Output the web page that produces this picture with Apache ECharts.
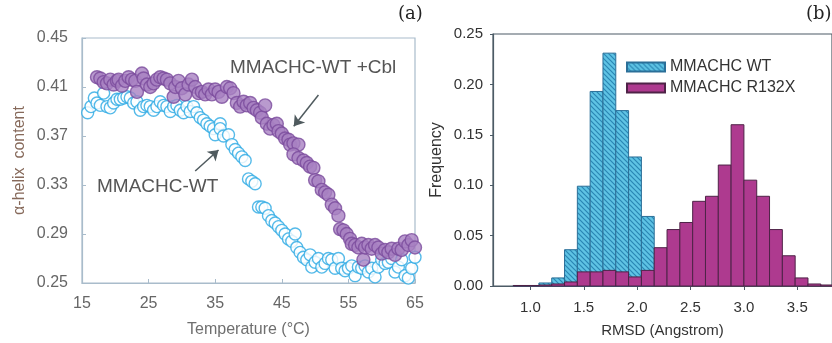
<!DOCTYPE html>
<html>
<head>
<meta charset="utf-8">
<script src="https://cdn.jsdelivr.net/npm/echarts@6/dist/echarts.min.js"></script>
<style>
  html, body { margin: 0; padding: 0; background: #fff; }
  #chart { width: 832px; height: 343px; }
</style>
</head>
<body>
<div id="chart"></div>
<script>
// ---- panel (a): alpha-helix content vs temperature ----
const tempTicks = [15, 25, 35, 45, 55, 65]
const helixTicks = [0.25, 0.29, 0.33, 0.37, 0.41, 0.45]

const cblData = [
  [17.25, 0.418], [17.75, 0.417], [18.25, 0.414], [18.75, 0.413], [19.25, 0.416],
  [19.75, 0.412], [20.25, 0.415], [20.5, 0.416], [21, 0.411], [21.5, 0.415],
  [22, 0.418], [22.5, 0.416], [23, 0.415], [23.25, 0.406], [24, 0.421],
  [24.25, 0.417], [24.75, 0.412], [25.25, 0.41], [25.75, 0.413], [26.25, 0.416],
  [26.75, 0.418], [27.25, 0.417], [27.75, 0.416], [28.25, 0.413], [28.75, 0.402],
  [29, 0.41], [29.5, 0.415], [30, 0.409], [30.5, 0.404], [31, 0.412],
  [31.5, 0.416], [32, 0.41], [32.5, 0.405], [33, 0.406], [33.5, 0.404],
  [34, 0.408], [34.5, 0.404], [35, 0.408], [35.5, 0.406], [36, 0.402],
  [36.75, 0.41], [37.25, 0.409], [37.75, 0.405], [38.25, 0.397], [38.75, 0.394],
  [39.25, 0.398], [39.75, 0.395], [40.25, 0.397], [40.75, 0.393], [41.25, 0.391],
  [41.75, 0.389], [42, 0.385], [42.5, 0.395], [42.75, 0.38], [43.25, 0.376],
  [43.75, 0.379], [44.25, 0.38], [44.5, 0.374], [45, 0.372], [45.5, 0.368],
  [46, 0.367], [46.25, 0.363], [46.75, 0.364], [47.5, 0.363], [46.75, 0.355],
  [47.5, 0.352], [48.25, 0.35], [48.75, 0.348], [49.25, 0.345], [49.75, 0.344],
  [50, 0.334], [50.5, 0.333], [51, 0.326], [51.5, 0.324], [52, 0.322],
  [52.5, 0.314], [53, 0.311], [53.5, 0.305], [53.75, 0.294], [54.25, 0.293],
  [54.75, 0.29], [55.25, 0.286], [55.5, 0.282], [56, 0.281], [56.5, 0.279],
  [57, 0.282], [57.25, 0.269], [57.5, 0.279], [58, 0.281], [58.5, 0.278],
  [59, 0.281], [59.5, 0.279], [60, 0.274], [60.5, 0.277], [61, 0.275],
  [61.5, 0.278], [62, 0.273], [62.5, 0.278], [63, 0.277], [63.5, 0.284],
  [64, 0.281], [64.5, 0.285], [65, 0.279]
]

const wtData = [
  [15.85, 0.389], [16.35, 0.394], [16.85, 0.401], [17.25, 0.397], [17.75, 0.395],
  [18.25, 0.405], [18.75, 0.394], [19.25, 0.393], [19.75, 0.397], [20.25, 0.4],
  [20.75, 0.4], [21.25, 0.401], [21.75, 0.402], [22.25, 0.401], [22.75, 0.397],
  [23.25, 0.398], [23.75, 0.391], [24.25, 0.394], [24.75, 0.395], [25.25, 0.394],
  [25.75, 0.391], [26.25, 0.394], [26.75, 0.398], [27.25, 0.395], [27.75, 0.394],
  [28.25, 0.39], [28.75, 0.394], [29.25, 0.395], [29.75, 0.391], [30.25, 0.389],
  [30.75, 0.394], [31.25, 0.39], [31.75, 0.394], [32.25, 0.389], [32.75, 0.385],
  [33.25, 0.383], [33.75, 0.38], [34.25, 0.378], [34.75, 0.376], [35, 0.371],
  [35.75, 0.38], [35.75, 0.376], [36.25, 0.37], [37, 0.371], [37.5, 0.363],
  [38, 0.359], [38.5, 0.356], [39, 0.353], [39.5, 0.35], [40, 0.335],
  [40.5, 0.333], [41, 0.331], [41.5, 0.312], [42, 0.312], [42.5, 0.311],
  [43, 0.305], [43.5, 0.301], [44, 0.299], [44.5, 0.296], [45, 0.293],
  [45.5, 0.29], [46, 0.286], [46.5, 0.284], [47, 0.29], [47.25, 0.279],
  [47.75, 0.275], [48.25, 0.271], [48.75, 0.269], [49.25, 0.273], [49.5, 0.263],
  [50, 0.267], [50.5, 0.27], [51, 0.263], [51.5, 0.266], [52, 0.27],
  [52.5, 0.269], [53, 0.262], [53.5, 0.27], [54, 0.262], [54.5, 0.26],
  [55, 0.262], [55.5, 0.264], [56, 0.256], [56.5, 0.263], [57, 0.262],
  [57.5, 0.264], [58, 0.259], [58.5, 0.262], [59, 0.255], [59.5, 0.263],
  [60, 0.269], [60.5, 0.266], [61, 0.267], [61.5, 0.27], [62, 0.259],
  [62.5, 0.263], [63, 0.269], [63.5, 0.256], [64, 0.254], [64.5, 0.262],
  [65, 0.271], [65.2, 0.264]
]

// arrows pointing at the two curves, [from, to] in data coords
const arrowPaths = [
  [[50.5, 0.4035], [46.8, 0.378]],
  [[32.0, 0.3414], [35.5, 0.3586]]
]

// ---- panel (b): RMSD histogram ----
const rmsdTicks = [1.0, 1.5, 2.0, 2.5, 3.0, 3.5]
const binEdges = [
  0.84, 0.96, 1.08, 1.2, 1.32, 1.44, 1.56, 1.68, 1.8, 1.92, 2.04, 2.16, 2.28,
  2.4, 2.52, 2.64, 2.76, 2.88, 3.0, 3.12, 3.24, 3.36, 3.48, 3.6, 3.72, 3.84
]
const wtFreq = [
  0.0005, 0.0005, 0.003, 0.008, 0.036, 0.099, 0.193, 0.231, 0.174, 0.128, 0.069,
  0, 0, 0, 0, 0, 0, 0, 0, 0, 0, 0, 0, 0, 0
]
const r132xFreq = [
  0.0005, 0.0005, 0.001, 0.002, 0.004, 0.014, 0.014, 0.0155, 0.014, 0.009,
  0.0155, 0.038, 0.056, 0.063, 0.084, 0.089, 0.12, 0.16, 0.105, 0.089,
  0.056, 0.03, 0.008, 0.002, 0.001
]

const toBins = (freq) => freq.map((f, i) => [binEdges[i], binEdges[i + 1], f])

// diagonal hatch for the WT bars
const hatch = document.createElement("canvas")
hatch.width = 5
hatch.height = 5
const hctx = hatch.getContext("2d")
hctx.fillStyle = "#5fc3e4"
hctx.fillRect(0, 0, 5, 5)
hctx.strokeStyle = "#2a86b4"
hctx.lineWidth = 1.2
hctx.beginPath()
hctx.moveTo(-1, -1); hctx.lineTo(6, 6)
hctx.moveTo(-1, 4); hctx.lineTo(1, 6)
hctx.moveTo(4, -1); hctx.lineTo(6, 1)
hctx.stroke()

const renderBin = (params, api) => {
  const y = api.value(2)
  if (!y) return
  const p0 = api.coord([api.value(0), y])
  const p1 = api.coord([api.value(1), 0])
  return {
    type: "rect",
    shape: { x: p0[0], y: p0[1], width: p1[0] - p0[0], height: p1[1] - p0[1] },
    style: api.style(),
  }
}

const font = "'Liberation Sans', Arial, Helvetica, sans-serif"
const leftAxisColor = "#a9bccb"
const rightAxisColor = "#4c5b66"

const chart = echarts.init(document.getElementById("chart"), null, { renderer: "canvas" })

const option = {
  animation: false,
  backgroundColor: "#fff",
  textStyle: { fontFamily: font },
  grid: [
    { left: 82, top: 38, width: 333, height: 245, show: true, borderColor: leftAxisColor, borderWidth: 1.2 },
    { left: 493, top: 34, width: 345, height: 254, show: true, borderColor: rightAxisColor, borderWidth: 1.2 },
  ],
  xAxis: [
    {
      gridIndex: 0,
      type: "value",
      min: 15,
      max: 65,
      name: "Temperature (°C)",
      nameLocation: "middle",
      nameGap: 39,
      nameTextStyle: { color: "#6f6f6f", fontSize: 16, fontFamily: font },
      axisLine: { lineStyle: { color: leftAxisColor, width: 1.2 } },
      axisTick: { inside: true, length: 4, customValues: tempTicks, lineStyle: { color: leftAxisColor } },
      axisLabel: { customValues: tempTicks, color: "#666", fontSize: 16, margin: 13, fontFamily: font },
      splitLine: { show: false },
    },
    {
      gridIndex: 1,
      type: "value",
      min: 0.65,
      max: 3.825,
      name: "RMSD (Angstrom)",
      nameLocation: "middle",
      nameGap: 37,
      nameTextStyle: { color: "#333", fontSize: 15, fontFamily: font },
      axisLine: { lineStyle: { color: rightAxisColor, width: 1.2 } },
      axisTick: { length: 4, customValues: rmsdTicks, lineStyle: { color: rightAxisColor } },
      axisLabel: { customValues: rmsdTicks, formatter: (v) => v.toFixed(1), color: "#333", fontSize: 15, margin: 14, fontFamily: font },
      splitLine: { show: false },
    },
  ],
  yAxis: [
    {
      gridIndex: 0,
      type: "value",
      min: 0.25,
      max: 0.45,
      name: "\u03b1-helix  content",
      nameLocation: "middle",
      nameGap: 54,
      nameTextStyle: { color: "#86695a", fontSize: 16, fontFamily: font },
      axisLine: { show: true, lineStyle: { color: leftAxisColor, width: 1.2 } },
      axisTick: { show: true, inside: true, length: 4, customValues: helixTicks, lineStyle: { color: leftAxisColor } },
      axisLabel: { customValues: helixTicks, formatter: (v) => v.toFixed(2), color: "#666", fontSize: 16, margin: 14, fontFamily: font },
      splitLine: { show: false },
    },
    {
      gridIndex: 1,
      type: "value",
      min: 0,
      max: 0.25,
      interval: 0.05,
      name: "Frequency",
      nameLocation: "middle",
      nameGap: 48,
      nameTextStyle: { color: "#333", fontSize: 16, fontFamily: font },
      axisLine: { show: true, lineStyle: { color: rightAxisColor, width: 1.2 } },
      axisTick: { show: true, length: 3, lineStyle: { color: rightAxisColor } },
      axisLabel: { formatter: (v) => v.toFixed(2), color: "#333", fontSize: 15, margin: 10, fontFamily: font },
      splitLine: { show: false },
    },
  ],
  legend: {
    orient: "vertical",
    left: 621,
    top: 54,
    itemWidth: 38,
    itemHeight: 9,
    itemGap: 5,
    icon: "rect",
    textStyle: { color: "#333", fontSize: 16, lineHeight: 16, fontFamily: font },
    data: ["MMACHC WT", "MMACHC R132X"],
  },
  graphic: [
    { type: "text", left: 230, top: 58, style: { text: "MMACHC-WT +Cbl", fill: "#555", font: "19px " + font } },
    { type: "text", left: 97, top: 177, style: { text: "MMACHC-WT", fill: "#555", font: "19px " + font } },
    { type: "text", left: 398, top: 5, style: { text: "(a)", fill: "#222", font: "18px 'DejaVu Serif', serif" } },
    { type: "text", left: 806, top: 5, style: { text: "(b)", fill: "#222", font: "18px 'DejaVu Serif', serif" } },
  ],
  series: [
    {
      name: "MMACHC-WT",
      type: "scatter",
      xAxisIndex: 0,
      yAxisIndex: 0,
      data: wtData,
      symbol: "circle",
      symbolSize: 12,
      itemStyle: { color: "#fff", borderColor: "#2aa9e3", borderWidth: 1.4 },
      markLine: {
        silent: true,
        symbol: ["none", "arrow"],
        symbolSize: 10,
        label: { show: false },
        lineStyle: { color: "#4f5a5e", width: 1.5, type: "solid" },
        data: arrowPaths.map((p) => [{ coord: p[0] }, { coord: p[1] }]),
      },
    },
    {
      name: "MMACHC-WT +Cbl",
      type: "scatter",
      xAxisIndex: 0,
      yAxisIndex: 0,
      data: cblData,
      symbol: "circle",
      symbolSize: 13,
      itemStyle: { color: "#a881c2", borderColor: "#7a4b9c", borderWidth: 1.4 },
    },
    {
      name: "MMACHC WT",
      type: "custom",
      xAxisIndex: 1,
      yAxisIndex: 1,
      renderItem: renderBin,
      encode: { x: [0, 1], y: 2 },
      itemStyle: { color: { image: hatch, repeat: "repeat" }, borderColor: "#2b6f98", borderWidth: 1 },
      data: toBins(wtFreq),
    },
    {
      name: "MMACHC R132X",
      type: "custom",
      xAxisIndex: 1,
      yAxisIndex: 1,
      renderItem: renderBin,
      encode: { x: [0, 1], y: 2 },
      itemStyle: { color: "#ae3a8f", borderColor: "#4e2347", borderWidth: 1 },
      data: toBins(r132xFreq),
    },
  ],
}

option && chart.setOption(option)
</script>
</body>
</html>
